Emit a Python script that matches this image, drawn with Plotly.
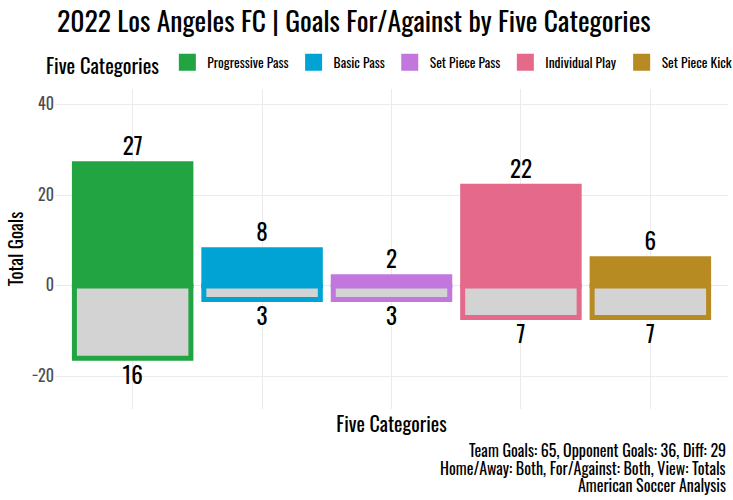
import plotly.graph_objects as go

categories = ["Progressive Pass", "Basic Pass", "Set Piece Pass", "Individual Play", "Set Piece Kick"]
goals_for = [27, 8, 2, 22, 6]
goals_against = [16, 3, 3, 7, 7]
colors = ["#22a443", "#00a3d4", "#c177dd", "#e4698a", "#b88a22"]
y_ticks = [-20, 0, 20, 40]
caption_lines = ["Team Goals: 65, Opponent Goals: 36, Diff: 29",
                 "Home/Away: Both, For/Against: Both, View: Totals",
                 "American Soccer Analysis"]

FONT = "Oswald, 'Liberation Sans Narrow', 'DejaVu Sans Condensed', 'Roboto Condensed', sans-serif"

fig = go.Figure()
for cat, f, a, c in zip(categories, goals_for, goals_against, colors):
    fig.add_trace(go.Bar(x=[cat], y=[f], name=cat, width=0.9,
                         marker=dict(color=c, line=dict(color=c, width=5)),
                         legendgroup=cat, showlegend=True, hoverinfo="skip"))
    fig.add_trace(go.Bar(x=[cat], y=[-a], name=cat, width=0.9,
                         marker=dict(color="#d3d3d3", line=dict(color=c, width=5)),
                         legendgroup=cat, showlegend=False, hoverinfo="skip"))

fig.add_trace(go.Scatter(x=categories, y=[v + 0.6 for v in goals_for], mode="text",
                         text=[str(v) for v in goals_for], textposition="top center",
                         textfont=dict(size=23, color="black", family=FONT),
                         showlegend=False, hoverinfo="skip"))
fig.add_trace(go.Scatter(x=categories, y=[-v - 1.9 for v in goals_against], mode="text",
                         text=[str(v) for v in goals_against], textposition="bottom center",
                         textfont=dict(size=23, color="black", family=FONT),
                         showlegend=False, hoverinfo="skip"))

PT, PB = 84, 409
fig.update_layout(
    width=733, height=500, barmode="overlay",
    plot_bgcolor="white", paper_bgcolor="white",
    margin=dict(l=55, r=5, t=PT, b=500 - PB),
    font=dict(family=FONT, color="black"),
    title=dict(text="2022 Los Angeles FC | Goals For/Against by Five Categories",
               x=57/733, xanchor="left", xref="container", y=1-22/500, yanchor="middle",
               font=dict(size=27.7, color="black", family=FONT)),
    legend=dict(orientation="h", xref="container", yref="container",
                x=44/733, xanchor="left", y=1-47/500, yanchor="top",
                title=dict(text="Five Categories", font=dict(size=20.5), side="left"),
                font=dict(size=13.5), itemwidth=30, traceorder="normal"),
    xaxis=dict(showticklabels=False, showgrid=True, gridcolor="#ebebeb", gridwidth=1,
               zeroline=False, range=[-0.6, 4.6],
               title=dict(text="Five Categories", font=dict(size=20), standoff=8)),
    yaxis=dict(range=[-27.2, 43.5], tickvals=y_ticks, showgrid=True, gridcolor="#ebebeb",
               zeroline=False, tickfont=dict(size=16, color="#4d4d4d"),
               title=dict(text="Total Goals", font=dict(size=19), standoff=6)),
)

caption_y = [451, 469, 486]
for line, py in zip(caption_lines, caption_y):
    fig.add_annotation(text=line, xref="paper", x=1, xanchor="right",
                       yref="paper", y=(PB - py) / (PB - PT), yanchor="middle",
                       showarrow=False, font=dict(size=16, color="black", family=FONT))

fig.write_html("out.html")
